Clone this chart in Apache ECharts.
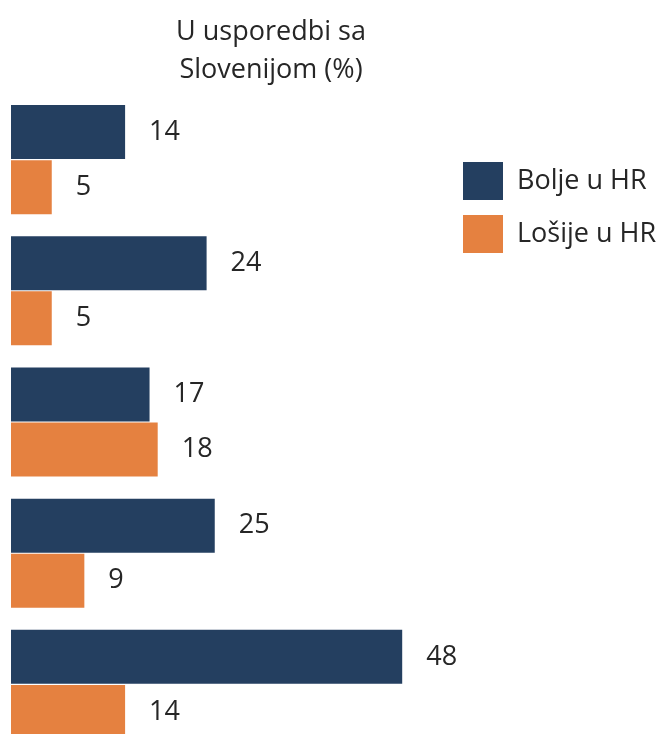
<!DOCTYPE html>
<html><head><meta charset="utf-8">
<script src="https://cdn.jsdelivr.net/npm/echarts@6/dist/echarts.min.js"></script>
<style>html,body{margin:0;padding:0;background:#fff;overflow:hidden}#c{width:668px;height:760px}</style>
</head><body><div id="c"></div>
<script>
const categories = ['1', '2', '3', '4', '5'];
const bolje = [14, 24, 17, 25, 48];
const losije = [5, 5, 18, 9, 14];
const seriesNames = ['Bolje u HR', 'Lošije u HR'];
const titleText = 'U usporedbi sa\nSlovenijom (%)';

const chart = echarts.init(document.getElementById('c'));
const labelStyle = {show: true, position: 'right', distance: 24, fontSize: 27, color: '#262626', fontFamily: 'Open Sans'};
chart.setOption({
  animation: false,
  textStyle: {fontFamily: 'Open Sans'},
  title: {
    text: titleText, left: 266, top: 8, textAlign: 'center',
    textStyle: {fontSize: 27, fontWeight: 'normal', color: '#262626', lineHeight: 38, fontFamily: 'Open Sans'}
  },
  legend: {
    orient: 'vertical', left: 463, top: 162, padding: 0,
    itemWidth: 40, itemHeight: 38, itemGap: 15,
    icon: 'rect',
    textStyle: {fontSize: 27, color: '#262626', padding: [0, 0, 0, 9], fontFamily: 'Open Sans'},
    data: seriesNames
  },
  grid: {left: 11, top: 94, width: 652, height: 656, containLabel: false},
  xAxis: {type: 'value', min: 0, max: 80, show: false},
  yAxis: {type: 'category', data: categories, inverse: true, show: false},
  series: [
    {name: seriesNames[0], type: 'bar', data: bolje, barWidth: 54, barGap: '2%', itemStyle: {color: '#243F60'}, label: labelStyle},
    {name: seriesNames[1], type: 'bar', data: losije, barWidth: 54, barGap: '2%', itemStyle: {color: '#E58140'}, label: labelStyle}
  ]
});
</script></body></html>
